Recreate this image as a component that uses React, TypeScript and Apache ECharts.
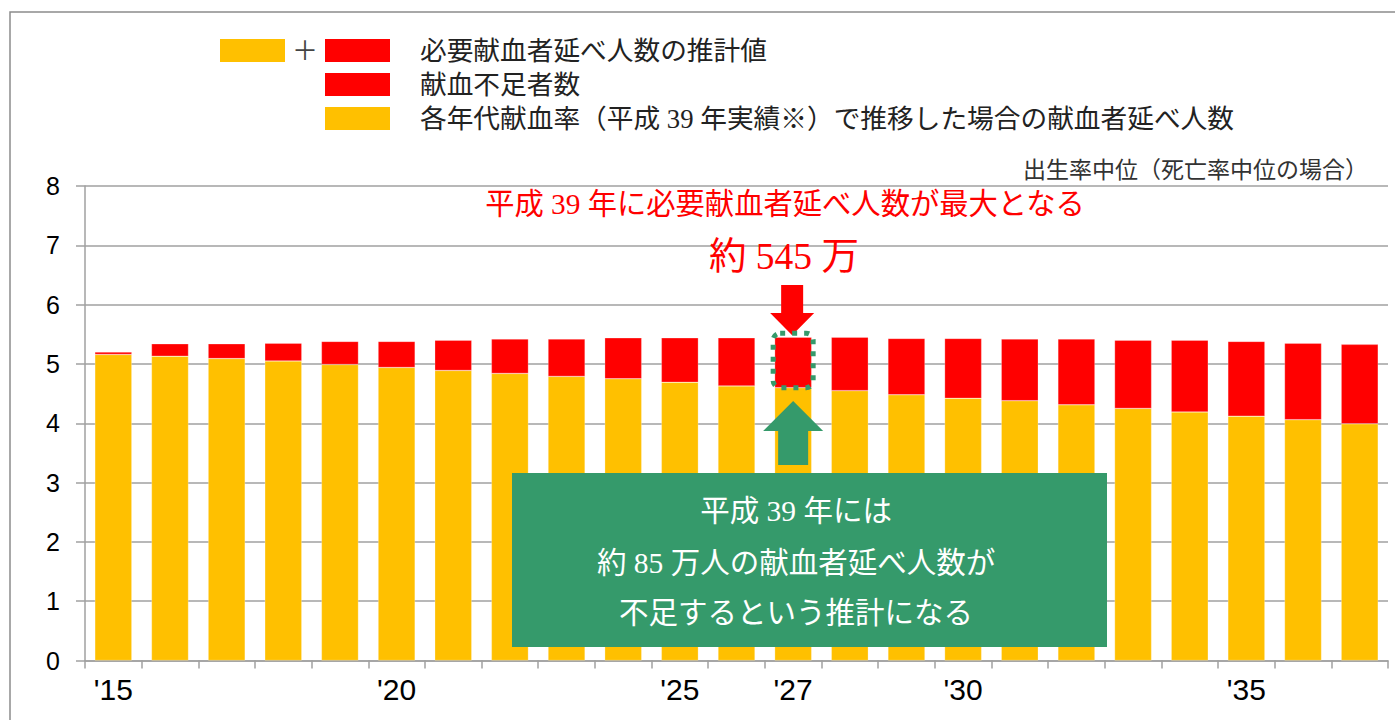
import React, { useEffect, useRef } from "react";
import * as echarts from "echarts";

const categories = ["'15","'16","'17","'18","'19","'20","'21","'22","'23","'24","'25","'26","'27","'28","'29","'30","'31","'32","'33","'34","'35","'36","'37"];
const shownLabelIndexes = [0, 5, 10, 12, 15, 20];
// 各年代献血率（平成39年実績）で推移した場合の献血者延べ人数（百万人）
const baseDonors = [5.16,5.13,5.09,5.05,4.99,4.94,4.89,4.84,4.79,4.75,4.69,4.63,4.60,4.55,4.48,4.42,4.38,4.31,4.25,4.19,4.12,4.06,3.99];
// 献血不足者数（百万人）
const shortage = [0.04,0.21,0.25,0.30,0.39,0.44,0.51,0.58,0.63,0.69,0.75,0.81,0.85,0.90,0.95,1.01,1.04,1.11,1.15,1.21,1.26,1.29,1.34];
const yTicks = [0, 1, 2, 3, 4, 5, 6, 7, 8];
const peakIndex = 12;

const YELLOW = "#FFC000";
const RED = "#FF0000";
const GREEN = "#359A6B";
const JP = "'Liberation Serif', 'Noto Sans CJK JP', serif";
const NARROW = "'Liberation Sans Narrow', 'Liberation Sans', Arial, sans-serif";

export default function App() {
  const ref = useRef<HTMLDivElement>(null);
  useEffect(() => {
    if (!ref.current) return;
    const chart = echarts.init(ref.current, null, { renderer: "svg" });
    chart.setOption({
      animation: false,
      backgroundColor: "#fff",
      grid: { left: 85, right: 7, top: 186, bottom: 59.5, containLabel: false },
      xAxis: {
        type: "category",
        data: categories,
        boundaryGap: true,
        axisLine: { lineStyle: { color: "#A0A0A0", width: 1.5 } },
        axisTick: { show: true, interval: 0, length: 8, lineStyle: { color: "#A0A0A0", width: 1.5 } },
        axisLabel: {
          interval: (i: number) => shownLabelIndexes.includes(i),
          color: "#000",
          fontFamily: NARROW,
          fontSize: 30,
          margin: 14,
        },
      },
      yAxis: {
        type: "value",
        min: yTicks[0],
        max: yTicks[yTicks.length - 1],
        interval: 1,
        axisLine: { show: true, lineStyle: { color: "#A0A0A0", width: 1.5 } },
        axisTick: { show: true, length: 9, lineStyle: { color: "#A0A0A0", width: 1.5 } },
        splitLine: { lineStyle: { color: "#A0A0A0", width: 1.5 } },
        axisLabel: {
          color: "#000",
          fontFamily: "'Liberation Sans', Arial, sans-serif",
          fontSize: 25,
          margin: 25,
        },
      },
      series: [
        {
          name: "各年代献血率（平成 39 年実績※）で推移した場合の献血者延べ人数",
          type: "bar",
          stack: "total",
          data: baseDonors,
          barWidth: 37,
          itemStyle: { color: YELLOW, borderColor: "rgba(255,255,255,0.5)", borderWidth: 0.5 },
        },
        {
          name: "献血不足者数",
          type: "bar",
          stack: "total",
          data: shortage,
          barWidth: 37,
          itemStyle: { color: RED, borderColor: "rgba(255,255,255,0.5)", borderWidth: 0.5 },
        },
      ],
    });

    const [cx, yBase] = chart.convertToPixel({ seriesIndex: 0 }, [peakIndex, baseDonors[peakIndex]]) as number[];
    const [, yTop] = chart.convertToPixel({ seriesIndex: 0 }, [peakIndex, baseDonors[peakIndex] + shortage[peakIndex]]) as number[];

    const legendText = (x: number, y: number, t: string) => ({
      type: "text", x, y, z: 100,
      style: { text: t, fill: "#222", font: `26.7px ${JP}`, textVerticalAlign: "middle" },
    });
    const boxText = (y: number, t: string) => ({
      type: "text", z: 101, x: 796, y,
      style: { text: t, fill: "#fff", font: `29.5px ${JP}`, textAlign: "center", textVerticalAlign: "middle" },
    });

    chart.setOption({
      graphic: [
        { type: "rect", z: 100, shape: { x: 10, y: 12, width: 1420, height: 740 }, style: { fill: "none", stroke: "#8C8C8C", lineWidth: 1.5 } },
        // legend
        { type: "rect", z: 100, shape: { x: 220, y: 39, width: 65, height: 23 }, style: { fill: YELLOW } },
        { type: "text", z: 100, x: 305, y: 51, style: { text: "＋", fill: "#444", font: `26px ${JP}`, textAlign: "center", textVerticalAlign: "middle" } },
        { type: "rect", z: 100, shape: { x: 325, y: 39, width: 65, height: 23 }, style: { fill: RED } },
        legendText(420, 51, "必要献血者延べ人数の推計値"),
        { type: "rect", z: 100, shape: { x: 325, y: 73, width: 65, height: 23 }, style: { fill: RED } },
        legendText(420, 85, "献血不足者数"),
        { type: "rect", z: 100, shape: { x: 325, y: 107, width: 65, height: 23 }, style: { fill: YELLOW } },
        legendText(420, 119, "各年代献血率（平成 39 年実績※）で推移した場合の献血者延べ人数"),
        { type: "text", z: 100, x: 1368, y: 170, style: { text: "出生率中位（死亡率中位の場合）", fill: "#333", font: `23px ${JP}`, textAlign: "right", textVerticalAlign: "middle" } },
        // red annotation
        { type: "text", z: 100, x: 785, y: 204, style: { text: "平成 39 年に必要献血者延べ人数が最大となる", fill: RED, font: `29.3px ${JP}`, textAlign: "center", textVerticalAlign: "middle" } },
        { type: "text", z: 100, x: 784, y: 256, style: { text: "約 545 万", fill: RED, font: `37.5px ${JP}`, textAlign: "center", textVerticalAlign: "middle" } },
        {
          type: "polygon", z: 100,
          shape: { points: [[cx - 12, 285], [cx + 10, 285], [cx + 10, 313], [cx + 21, 313], [cx - 1, yTop - 2], [cx - 23, 313], [cx - 12, 313]] },
          style: { fill: RED },
        },
        {
          type: "rect", z: 101,
          shape: { x: cx - 20, y: yTop - 4, width: 40, height: yBase - yTop + 4, r: 7 },
          style: { fill: "none", stroke: GREEN, lineWidth: 5, lineDash: [5, 7] },
        },
        {
          type: "polygon", z: 100,
          shape: { points: [[cx, 401], [cx + 30, 431], [cx + 15, 431], [cx + 15, 465], [cx - 15, 465], [cx - 15, 431], [cx - 30, 431]] },
          style: { fill: GREEN },
        },
        // green box
        { type: "rect", z: 100, shape: { x: 512, y: 473, width: 595, height: 174 }, style: { fill: GREEN } },
        boxText(511, "平成 39 年には"),
        boxText(563, "約 85 万人の献血者延べ人数が"),
        boxText(613, "不足するという推計になる"),
      ],
    });

    return () => chart.dispose();
  }, []);
  return <div ref={ref} style={{ position: "fixed", left: 0, top: 0, width: 1395, height: 720 }} />;
}
